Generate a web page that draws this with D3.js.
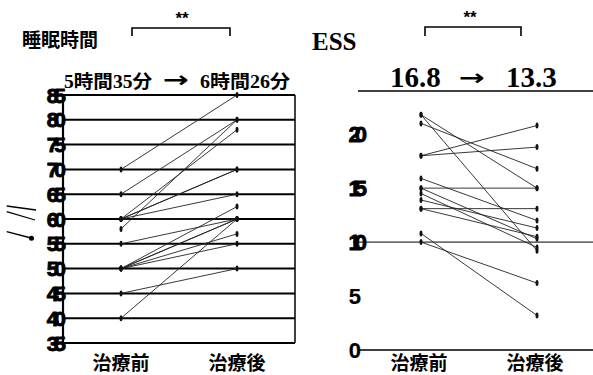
<!DOCTYPE html>
<html><head><meta charset="utf-8">
<script src="https://cdn.jsdelivr.net/npm/d3@7/dist/d3.min.js"></script>
<style>
html,body{margin:0;padding:0;background:#fff;}
svg{display:block;}
.jp{font-family:"Noto Sans CJK JP","Noto Sans CJK SC",sans-serif;font-weight:700;}
.num{font-family:"Liberation Sans",Arial,sans-serif;font-weight:700;}
.ser{font-family:"Liberation Serif","Noto Sans CJK JP",serif;font-weight:700;}
</style></head>
<body>
<script>
// ---- data ----
const categories = ["治療前", "治療後"];
// 睡眠時間 (x10 h scale), before / after per subject
const sleepBefore = [70, 65, 60, 58, 60, 60, 60, 50, 60, 55, 50, 50, 50, 50, 45, 40];
const sleepAfter  = [85, 80, 78, 80, 70, 70, 65, 62.5, 60, 60, 60, 60, 57, 55, 50, 60];
const sleepTicks  = [35, 40, 45, 50, 55, 60, 65, 70, 75, 80, 85];
// ESS before / after per subject
const essBefore = [21.8, 21.8, 21.0, 18.0, 18.0, 15.9, 15.0, 15.0, 14.5, 13.9, 13.1, 13.1, 10.0, 10.8];
const essAfter  = [15.0, 9.2, 16.8, 20.8, 18.8, 12.0, 15.0, 10.3, 9.5, 11.3, 13.1, 10.5, 6.2, 3.2];
const essTickLabels = [0, 5, 10, 15, 20];
const essLines = [0, 10, 24];

const W = 593, H = 375;
const svg = d3.select("body").append("svg").attr("width", W).attr("height", H);

// ===== Left panel =====
const xL = d3.scalePoint().domain(categories).range([63, 295]).padding(0.5);
const yL = d3.scaleLinear().domain([35, 85]).range([343, 95]);

const gL = svg.append("g");
gL.selectAll("line.grid").data(sleepTicks).join("line")
  .attr("x1", 63).attr("x2", 295)
  .attr("y1", d => yL(d)).attr("y2", d => yL(d))
  .attr("stroke", "#000").attr("stroke-width", 2);
gL.append("line").attr("x1", 63).attr("x2", 63).attr("y1", yL(85)).attr("y2", yL(35))
  .attr("stroke", "#000").attr("stroke-width", 2.2);
gL.append("line").attr("x1", 295).attr("x2", 295).attr("y1", yL(85)).attr("y2", yL(35))
  .attr("stroke", "#000").attr("stroke-width", 1.5);
gL.selectAll("text.tk").data(sleepTicks).join("text")
  .attr("class", "num").attr("x", 62).attr("y", d => yL(d)).attr("dy", "0.36em")
  .attr("text-anchor", "end").attr("font-size", 21).attr("letter-spacing", -4)
  .attr("stroke", "#000").attr("stroke-width", 0.9)
  .text(d => d);
gL.selectAll("line.s").data(sleepBefore).join("line")
  .attr("x1", xL(categories[0])).attr("y1", d => yL(d))
  .attr("x2", xL(categories[1])).attr("y2", (d, i) => yL(sleepAfter[i]))
  .attr("stroke", "#222").attr("stroke-width", 0.9);
gL.selectAll("ellipse.b").data(sleepBefore).join("ellipse")
  .attr("cx", xL(categories[0])).attr("cy", d => yL(d)).attr("rx", 1.5).attr("ry", 3).attr("fill", "#111");
gL.selectAll("ellipse.a").data(sleepAfter).join("ellipse")
  .attr("cx", xL(categories[1])).attr("cy", d => yL(d)).attr("rx", 1.5).attr("ry", 3).attr("fill", "#111");
gL.selectAll("text.cat").data(categories).join("text")
  .attr("class", "jp").attr("x", d => xL(d)).attr("y", 370).attr("text-anchor", "middle")
  .attr("font-size", 19).text(d => d);
svg.append("text").attr("class", "jp").attr("x", 22).attr("y", 47).attr("font-size", 19).text("睡眠時間");
svg.append("text").attr("class", "ser").attr("x", 64).attr("y", 88).attr("font-size", 18)
  .attr("textLength", 88).attr("lengthAdjust", "spacingAndGlyphs").text("5時間35分");
svg.append("text").attr("x", 176).attr("y", 87).attr("text-anchor", "middle")
  .attr("font-family", "DejaVu Sans").attr("font-weight", 700).attr("font-size", 22)
  .attr("textLength", 26).attr("lengthAdjust", "spacingAndGlyphs").text("→");
svg.append("text").attr("class", "ser").attr("x", 200).attr("y", 88).attr("font-size", 18)
  .attr("textLength", 90).attr("lengthAdjust", "spacingAndGlyphs").text("6時間26分");
function bracket(x1, x2, y, leg, sx, sy) {
  svg.append("path").attr("d", `M${x1},${y + leg}V${y}H${x2}V${y + leg}`)
    .attr("fill", "none").attr("stroke", "#000").attr("stroke-width", 1.6);
  svg.append("text").attr("class", "num").attr("x", sx).attr("y", sy).attr("text-anchor", "middle")
    .attr("font-size", 17).text("**");
}
bracket(132, 230, 28, 8, 182, 24);
const scribble = [[6.7, 206, 36, 210], [6.7, 211.7, 35, 220], [6.7, 231.7, 31, 238]];
svg.selectAll("line.scr").data(scribble).join("line")
  .attr("x1", d => d[0]).attr("y1", d => d[1]).attr("x2", d => d[2]).attr("y2", d => d[3])
  .attr("stroke", "#000").attr("stroke-width", 1.3);
svg.append("circle").attr("cx", 31.5).attr("cy", 238.3).attr("r", 2.5).attr("fill", "#000");

// ===== Right panel =====
const xR = d3.scalePoint().domain(categories).range([363, 595]).padding(0.5);
const yR = d3.scaleLinear().domain([0, 24]).range([350, 91]);
const gR = svg.append("g");
gR.selectAll("line.h").data(essLines).join("line")
  .attr("x1", d => d === 10 ? 353 : 358).attr("x2", 593)
  .attr("y1", d => yR(d)).attr("y2", d => yR(d))
  .attr("stroke", "#000").attr("stroke-width", d => d === 10 ? 1 : 1.3);
gR.selectAll("text.tk").data(essTickLabels).join("text")
  .attr("class", "num").attr("x", 361).attr("y", d => yR(d)).attr("dy", "0.36em")
  .attr("text-anchor", "end").attr("font-size", 22).attr("letter-spacing", d => d >= 10 ? -6 : 0)
  .attr("stroke", "#000").attr("stroke-width", d => d >= 10 ? 0.8 : 0.2)
  .text(d => d);
gR.selectAll("line.s").data(essBefore).join("line")
  .attr("x1", xR(categories[0])).attr("y1", d => yR(d))
  .attr("x2", xR(categories[1])).attr("y2", (d, i) => yR(essAfter[i]))
  .attr("stroke", "#222").attr("stroke-width", 0.9);
gR.selectAll("ellipse.b").data(essBefore).join("ellipse")
  .attr("cx", xR(categories[0])).attr("cy", d => yR(d)).attr("rx", 1.5).attr("ry", 3).attr("fill", "#111");
gR.selectAll("ellipse.a").data(essAfter).join("ellipse")
  .attr("cx", xR(categories[1])).attr("cy", d => yR(d)).attr("rx", 1.5).attr("ry", 3).attr("fill", "#111");
gR.selectAll("text.cat").data(categories).join("text")
  .attr("class", "jp").attr("x", d => xR(d) - 2).attr("y", 370).attr("text-anchor", "middle")
  .attr("font-size", 19).text(d => d);
svg.append("text").attr("class", "ser").attr("x", 312).attr("y", 50).attr("font-size", 25).text("ESS");
svg.append("text").attr("class", "ser").attr("x", 390).attr("y", 87).attr("font-size", 29).text("16.8");
svg.append("text").attr("x", 472).attr("y", 85).attr("text-anchor", "middle")
  .attr("font-family", "DejaVu Sans").attr("font-weight", 700).attr("font-size", 22)
  .attr("textLength", 26).attr("lengthAdjust", "spacingAndGlyphs").text("→");
svg.append("text").attr("class", "ser").attr("x", 506).attr("y", 87).attr("font-size", 29).text("13.3");
bracket(425, 521, 27, 9, 470, 23);
</script>
</body></html>
